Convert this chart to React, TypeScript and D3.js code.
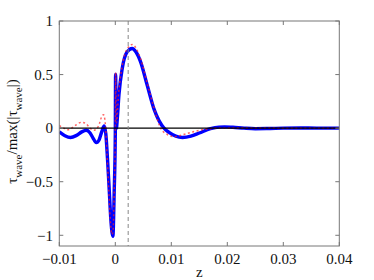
import * as d3 from "d3";

// blue solid series (z, tau_wave / max|tau_wave|)
const blueZ = [
  -0.01, -0.009, -0.008, -0.007, -0.006, -0.0052, -0.0045, -0.004, -0.0034, -0.0029,
  -0.0024, -0.002, -0.0017, -0.0014, -0.0011, -0.0008, -0.00043, -0.0002, 0, 0.00005,
  0.0002, 0.00036, 0.00065, 0.00125, 0.0021, 0.003, 0.0037, 0.0045, 0.0057, 0.0069,
  0.0078, 0.0087, 0.0096, 0.0108, 0.012, 0.0135, 0.015, 0.017, 0.0185, 0.0195,
  0.021, 0.023, 0.025, 0.027, 0.03, 0.033, 0.036, 0.04,
];
const blueY = [
  -0.034, -0.07, -0.087, -0.07, -0.035, -0.02, -0.045, -0.09, -0.135, -0.11,
  -0.03, 0.02, -0.05, -0.28, -0.56, -0.85, -1.01, -0.6, -0.05, 0.5,
  0.0, 0.09, 0.31, 0.56, 0.71, 0.743, 0.71, 0.62, 0.4, 0.18,
  0.07, 0.0, -0.04, -0.075, -0.087, -0.075, -0.045, -0.005, 0.01, 0.012,
  0.008, 0.0, -0.005, -0.004, 0.0, 0.002, 0.0, 0.0,
];

// red dotted series
const redZ = [
  -0.01, -0.0092, -0.0085, -0.0078, -0.007, -0.006, -0.0052, -0.0045, -0.0038, -0.003,
  -0.0024, -0.0021, -0.0018, -0.0015, -0.0012, -0.0009, -0.0006, -0.0004, -0.0002, 0,
  0.00005, 0.0002, 0.0006, 0.0012, 0.002, 0.003, 0.0045, 0.0057, 0.0069, 0.0081,
  0.0093, 0.0105, 0.0118, 0.0135, 0.0152, 0.0175, 0.02, 0.025, 0.03, 0.035, 0.04,
];
const redY = [
  0.025, 0.0, -0.015, 0.0, 0.03, 0.055, 0.04, 0.0, -0.02, 0.02,
  0.11, 0.125, 0.05, -0.22, -0.54, -0.85, -0.99, -0.96, -0.6, -0.06,
  0.52, 0.05, 0.33, 0.57, 0.73, 0.78, 0.65, 0.42, 0.19, 0.0,
  -0.06, -0.08, -0.065, -0.04, -0.018, -0.003, 0.0, 0.001, 0.0, 0.0, 0.0,
];

const xTicks = [-0.01, 0, 0.01, 0.02, 0.03, 0.04];
const xTickLabels = ["\u22120.01", "0", "0.01", "0.02", "0.03", "0.04"];
const yTicks = [-1, -0.5, 0, 0.5, 1];
const yTickLabels = ["\u22121", "\u22120.5", "0", "0.5", "1"];
const markerZ = 0.0023;

const W = 374;
const H = 280;
const m = { left: 59.3, right: 339.3, top: 21, bottom: 246 };
const font = "'Liberation Serif', 'Times New Roman', serif";

export default function App() {
  const x = d3.scaleLinear().domain([-0.01, 0.04]).range([m.left, m.right]);
  const y = d3.scaleLinear().domain([-1.1, 1]).range([m.bottom, m.top]);

  const line = d3
    .line<[number, number]>()
    .x((d) => x(d[0]))
    .y((d) => y(d[1]))
    .curve(d3.curveMonotoneX);

  const blue = blueZ.map((z, i) => [z, blueY[i]] as [number, number]);
  const red = redZ.map((z, i) => [z, redY[i]] as [number, number]);
  const tl = 4;

  return (
    <div style={{ position: "absolute", left: 0, top: 0 }}>
      <svg width={W} height={H} style={{ display: "block", background: "#fff" }}>
        <defs>
          <clipPath id="plot">
            <rect x={m.left} y={m.top} width={m.right - m.left} height={m.bottom - m.top} />
          </clipPath>
        </defs>
        <g clipPath="url(#plot)">
          <path d={line(blue) ?? ""} fill="none" stroke="#0000ff" strokeWidth={3.4} strokeLinejoin="round" />
          <path d={line(red) ?? ""} fill="none" stroke="#ff2020" strokeOpacity={0.7} strokeWidth={1.5} strokeDasharray="2,2.5" />
          <line x1={x(-0.01)} x2={x(0.04)} y1={y(0)} y2={y(0)} stroke="#000" strokeWidth={1.2} />
          <line x1={x(markerZ)} x2={x(markerZ)} y1={m.top} y2={m.bottom} stroke="#888" strokeWidth={1} strokeDasharray="4,3" />
        </g>

        {/* axes box and ticks */}
        <rect x={m.left} y={m.top} width={m.right - m.left} height={m.bottom - m.top} fill="none" stroke="#777" strokeWidth={1} />
        {xTicks.map((t) => (
          <g key={"x" + t}>
            <line x1={x(t)} x2={x(t)} y1={m.bottom} y2={m.bottom - tl} stroke="#777" />
            <line x1={x(t)} x2={x(t)} y1={m.top} y2={m.top + tl} stroke="#777" />
          </g>
        ))}
        {yTicks.map((t) => (
          <g key={"y" + t}>
            <line x1={m.left} x2={m.left + tl} y1={y(t)} y2={y(t)} stroke="#777" />
            <line x1={m.right} x2={m.right - tl} y1={y(t)} y2={y(t)} stroke="#777" />
          </g>
        ))}

        <g fontFamily={font} fontSize={15} fill="#111">
          {xTicks.map((t, i) => (
            <text key={"xl" + t} x={x(t)} y={264} textAnchor="middle">
              {xTickLabels[i]}
            </text>
          ))}
          {yTicks.map((t, i) => (
            <text key={"yl" + t} x={53} y={y(t)} dy="0.35em" textAnchor="end">
              {yTickLabels[i]}
            </text>
          ))}
          <text x={(m.left + m.right) / 2} y={277} textAnchor="middle">z</text>
          <text transform={`translate(17,${(m.top + m.bottom) / 2 - 2}) rotate(-90)`} textAnchor="middle">
            τ<tspan fontSize={11} dy={4.5}>wave</tspan>
            <tspan dy={-4.5}>/max(|τ</tspan>
            <tspan fontSize={11} dy={4.5}>wave</tspan>
            <tspan dy={-4.5}>|)</tspan>
          </text>
        </g>
      </svg>
    </div>
  );
}
